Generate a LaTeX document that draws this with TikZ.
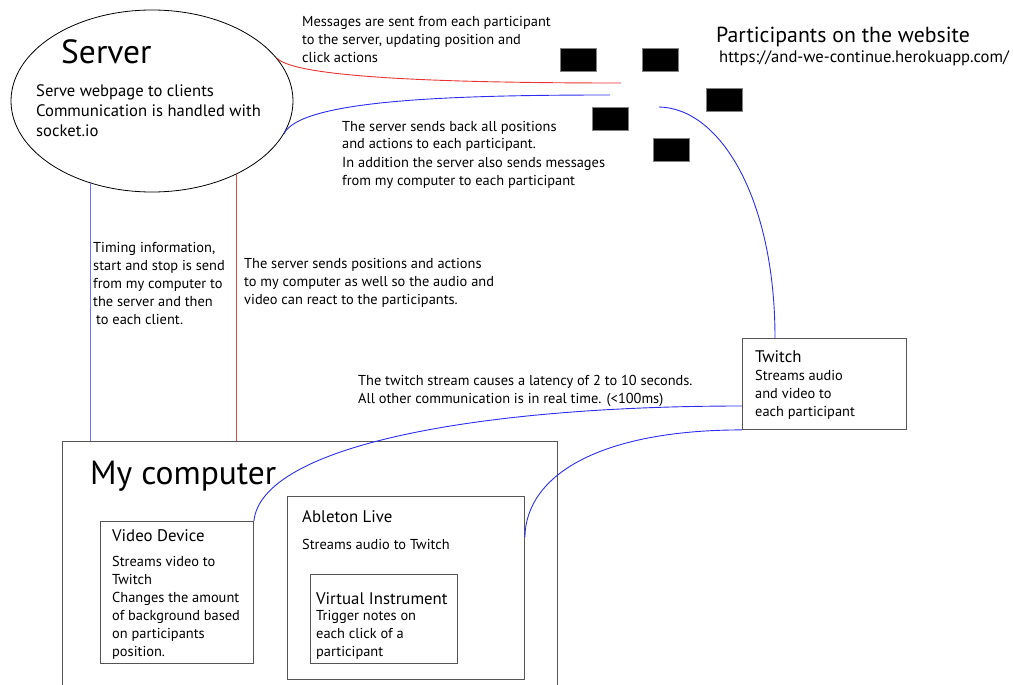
\documentclass[tikz,border=0pt]{standalone}
\usepackage{fontspec}
\setmainfont{PT Sans}
\usetikzlibrary{shapes.geometric,calc}
\definecolor{lnred}{RGB}{232,52,52}
\definecolor{lnblue}{RGB}{45,45,240}
\definecolor{vblue}{RGB}{110,110,255}
\definecolor{vred}{RGB}{225,75,75}
\definecolor{boxgray}{RGB}{85,85,85}
\tikzset{
  txt/.style={anchor=base west, inner sep=0pt, align=left, font=\fontsize{14.4}{18}\selectfont},
  title/.style={anchor=base west, inner sep=0pt, font=\fontsize{16.8}{20}\selectfont},
  huge/.style={anchor=base west, inner sep=0pt, font=\fontsize{33.5}{38}\selectfont},
  box/.style={draw=boxgray, line width=0.9pt, anchor=north west, inner sep=0pt},
  blk/.style={draw=gray, fill=black, anchor=north west, minimum width=36, minimum height=23, inner sep=0pt},
  redln/.style={draw=lnred, line width=0.9pt},
  blueln/.style={draw=lnblue, line width=0.9pt},
}
\begin{document}
\begin{tikzpicture}[x=1pt,y=-1pt]
\useasboundingbox (0,0) rectangle (1013,685);
% server
\node[ellipse, draw, line width=0.8pt, minimum width=282, minimum height=182, inner sep=0pt] (server) at (152,101) {};
\node[huge] (servert) at (61,64) {Server};
\node[anchor=base west, inner sep=0pt, align=left, font=\fontsize{16.6}{20}\selectfont] (serverb) at (36,136) {Serve webpage to clients\\Communication is handled with\\socket.io};
% participants
\node[blk] (p1) at (560,48) {};
\node[blk] (p2) at (642,48) {};
\node[blk] (p3) at (706,88) {};
\node[blk] (p4) at (592,107) {};
\node[blk] (p5) at (653,138) {};
\node[anchor=base west, inner sep=0pt, font=\fontsize{21.8}{24}\selectfont] (partt) at (716,43) {Participants on the website};
\node[anchor=base west, inner sep=0pt, font=\fontsize{16.6}{18}\selectfont] (url) at (719,63) {https://and-we-continue.herokuapp.com/};
\coordinate (redend) at (621,83);
\coordinate (blueend) at (610,95);
\coordinate (twend) at (659,107);
% texts
\node[txt] (msg) at (302,63) {Messages are sent from each participant\\to the server, updating position and\\click actions};
\node[txt] (back) at (342,185) {The server sends back all positions\\and actions to each participant.\\In addition the server also sends messages\\from my computer to each participant};
\node[txt] (timing) at (93,324) {Timing information,\\start and stop is send\\from my computer to\\the server and then\\\hspace{3pt}to each client.};
\node[txt] (pos) at (244,304) {The server sends positions and actions\\to my computer as well so the audio and\\video can react to the participants.};
\node[txt] (lat) at (358,403) {The twitch stream causes a latency of 2 to 10 seconds.\\All other communication is in real time. (<100ms)};
% twitch
\node[box, minimum width=164, minimum height=91] (twitch) at (742,338) {};
\node[title] (twt) at (755,362) {Twitch};
\node[txt] (twb) at (755,416) {Streams audio\\and video to\\each participant};
% computer
\node[box, minimum width=495, minimum height=270] (comp) at (62,441) {};
\node[huge] (compt) at (90,484) {My computer};
\node[box, minimum width=153, minimum height=142] (video) at (100,521) {};
\node[title] (videot) at (112,541) {Video Device};
\node[txt] (videob) at (112,656) {Streams video to\\Twitch\\Changes the amount\\of background based\\on participants\\position.};
\node[box, minimum width=237, minimum height=183] (able) at (287,496) {};
\node[title] (ablet) at (302,522) {Ableton Live};
\node[txt] (ableb) at (302,549) {Streams audio to Twitch};
\node[box, minimum width=147, minimum height=89] (vi) at (310,574) {};
\node[title] (vit) at (316,604) {Virtual Instrument};
\node[txt] (vib) at (316,656) {Trigger notes on\\each click of a\\participant};
% connectors
\draw[redln] (server.19) .. controls (295,78) and (450,83) .. (redend);
\draw[blueln] (server.-14) .. controls (300,100) and (450,95) .. (blueend);
\draw[draw=vblue, line width=1pt] (server.-127.7) -- (server.-127.7 |- comp.north);
\draw[draw=vred, line width=0.9pt] (server.-41) -- (server.-41 |- comp.north);
\draw[blueln] ($(twitch.north west)+(33,0)$) .. controls ($(twitch.north west)+(33,-140)$) and (720,108) .. (twend);
\draw[blueln] ($(twitch.north west)+(0,68)$) .. controls (480,406) and (262,445) .. (video.north east);
\draw[blueln] (twitch.south west) .. controls (600,430) and (526,475) .. ($(able.north east)+(0,41)$);
\end{tikzpicture}
\end{document}
